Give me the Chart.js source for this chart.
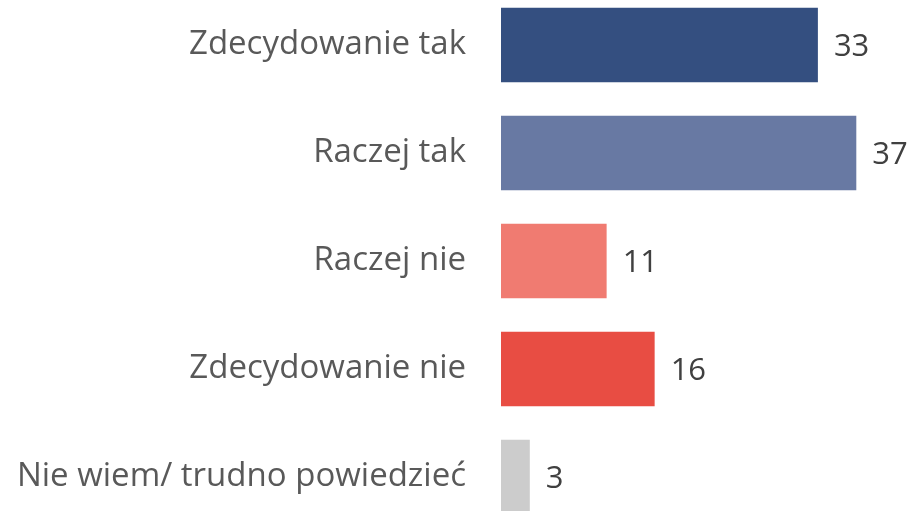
<!DOCTYPE html>
<html lang="pl">
<head>
    <meta charset="UTF-8">
    <title>Wykres</title>
    <script src="https://cdn.jsdelivr.net/npm/chart.js"></script>
    <style>
        html, body { margin: 0; padding: 0; background: #fff; overflow: hidden; }
        #wrap { position: absolute; left: 0; top: -9px; width: 912px; height: 540px; }
    </style>
</head>
<body>
    <div id="wrap"><canvas id="wykres"></canvas></div>

    <script>
        const kategorie = ['Zdecydowanie tak', 'Raczej tak', 'Raczej nie', 'Zdecydowanie nie', 'Nie wiem/ trudno powiedzieć'];
        const wartosci = [33, 37, 11, 16, 3];
        const kolory = ['#344f80', '#6879a3', '#f07b71', '#e84d43', '#cccccc'];

        const FONT = '"Open Sans", sans-serif';

        // etykiety z wartościami przy końcu słupków
        const etykietyWartosci = {
            id: 'etykietyWartosci',
            afterDatasetsDraw(chart) {
                const ctx = chart.ctx;
                const meta = chart.getDatasetMeta(0);
                ctx.save();
                ctx.font = '31px ' + FONT;
                ctx.fillStyle = '#404040';
                ctx.textAlign = 'left';
                ctx.textBaseline = 'middle';
                meta.data.forEach(function(bar, i) {
                    ctx.fillText(wartosci[i], bar.x + 16, bar.y + 2);
                });
                ctx.restore();
            }
        };

        new Chart(document.getElementById('wykres'), {
            type: 'bar',
            data: {
                labels: kategorie,
                datasets: [{
                    data: wartosci,
                    backgroundColor: kolory,
                    categoryPercentage: 1,
                    barPercentage: 0.69
                }]
            },
            options: {
                indexAxis: 'y',
                responsive: true,
                maintainAspectRatio: false,
                animation: false,
                layout: { padding: 0 },
                plugins: {
                    legend: { display: false },
                    tooltip: { enabled: false }
                },
                scales: {
                    x: {
                        display: false,
                        min: 0,
                        max: 42.8
                    },
                    y: {
                        grid: { display: false, drawTicks: false },
                        border: { display: false },
                        ticks: {
                            padding: 35,
                            color: '#595959',
                            font: { family: FONT, size: 33 }
                        },
                        afterFit: function(scale) {
                            scale.width = 501;
                            // bez dodatkowego marginesu u góry i dołu
                            scale.paddingTop = 0;
                            scale.paddingBottom = 0;
                        }
                    }
                }
            },
            plugins: [etykietyWartosci]
        });
    </script>
</body>
</html>
